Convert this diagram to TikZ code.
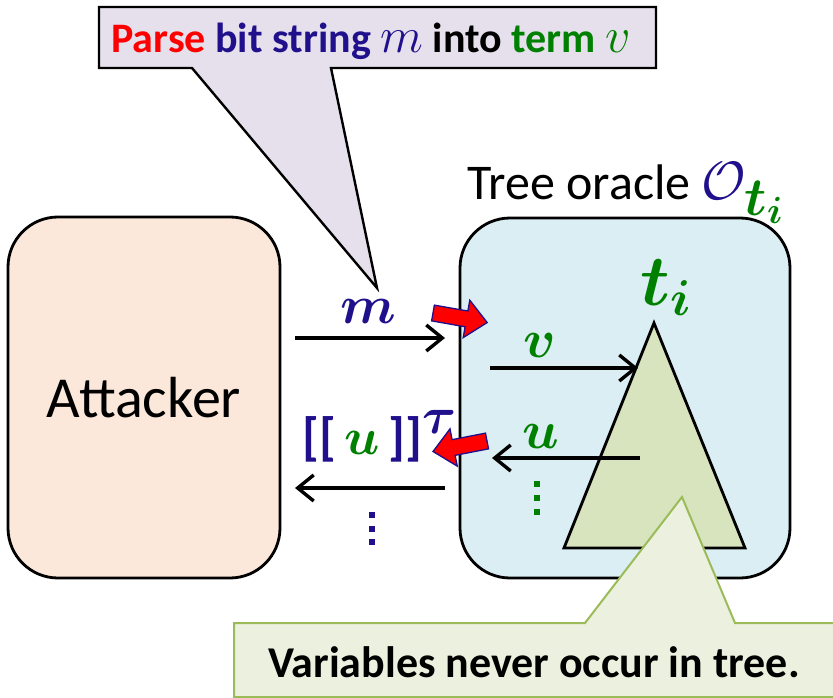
\RequirePackage{fix-cm}
\documentclass[tikz,border=0pt]{standalone}
\usepackage{fontspec}
\setmainfont{Carlito}
\usetikzlibrary{arrows.meta}
\definecolor{dblue}{RGB}{32,16,140}
\definecolor{dgreen}{RGB}{0,128,0}
\definecolor{myred}{RGB}{255,0,0}
\definecolor{lav}{RGB}{230,224,236}
\definecolor{peach}{RGB}{252,232,218}
\definecolor{lblue}{RGB}{219,238,244}
\definecolor{trigreen}{RGB}{215,228,189}
\definecolor{notefill}{RGB}{235,241,222}
\definecolor{noteline}{RGB}{155,187,89}
\newcommand{\bsym}[1]{\mbox{\boldmath$#1$}}
\newcommand{\sizedmath}[2]{\mbox{\fontsize{#1}{#1}\selectfont$#2$}}
\tikzset{
  fs/.style={font=\fontsize{#1}{#1}\selectfont},
  bigbox/.style={draw=black, line width=2.8pt, rounded corners=50pt},
  msg/.style={line width=3.4pt, -{Straight Barb[length=16pt,width=26pt,line width=3.4pt]}},
  redarrow/.style={fill=myred, draw=dblue, line width=1.3pt, line join=miter},
  lbl/.style={inner sep=0pt},
  dotsq/.style={minimum size=6pt, inner sep=0pt, fill=#1},
}
\begin{document}
\begin{tikzpicture}[x=1pt,y=-1pt]
\useasboundingbox (0,0) rectangle (833,698);

% Attacker box
\node[bigbox, fill=peach, minimum width=272pt, minimum height=361pt, fs=58] (att) at (144,397.5) {Attacker};

% Oracle box
\node[bigbox, fill=lblue, minimum width=330pt, minimum height=360pt] (orc) at (625,398) {};
\node[lbl, anchor=base west, fs=50] (title) at (467,200) {Tree oracle \textcolor{dblue}{\sizedmath{54}{\mathcal{O}_{\textcolor{dgreen}{\bsym{t_{\scriptstyle i}}}}}}};

% Tree
\coordinate (apex) at (654,323);
\coordinate (bl) at (564,548);
\coordinate (br) at (745,548);
\draw[fill=trigreen, line width=2.8pt, line join=miter] (apex) -- (br) -- (bl) -- cycle;
\node[lbl, anchor=base west, fs=72, text=dgreen] (tlab) at (640,305) {\bsym{t_i}};

% messages attacker <-> oracle
\node[lbl, fs=54, text=dblue] (mlab) at (368,311) {\bsym{m}};
\coordinate (m1) at (295,338);
\coordinate (m2) at (445,338);
\draw[msg] (m1) -- (m2);

\node[lbl, anchor=base west, fs=52, text=dblue] (enc) at (302,454) {\bfseries[[\,\textcolor{dgreen}{\bsym{u}}\,]]\raisebox{2pt}{$^{\bsym{\tau}}$}};
\coordinate (r1) at (445,488);
\coordinate (r2) at (295,488);
\draw[msg] (r1) -- (r2);
\node[dotsq=dblue] (bd1) at (372,515) {};
\node[dotsq=dblue] (bd2) at (372,528.5) {};
\node[dotsq=dblue] (bd3) at (372,542) {};

% inside oracle
\node[lbl, fs=54, text=dgreen] (vlab) at (540,345) {\bsym{v}};
\coordinate (v1) at (490,368);
\coordinate (v2) at (638,368);
\draw[msg] (v1) -- (v2);

\node[lbl, fs=54, text=dgreen] (ulab) at (541,436) {\bsym{u}};
\coordinate (u1) at (640,458);
\coordinate (u2) at (492,458);
\draw[msg] (u1) -- (u2);
\node[dotsq=dgreen] (gd1) at (537,484) {};
\node[dotsq=dgreen] (gd2) at (537,498) {};
\node[dotsq=dgreen] (gd3) at (537,512) {};

% red block arrows
\begin{scope}[shift={(433,313)}, rotate=-10]
  \draw[redarrow] (0,-8) -- (34,-8) -- (34,-19) -- (55,0) -- (34,19) -- (34,8) -- (0,8) -- cycle;
\end{scope}
\begin{scope}[shift={(487,441)}, rotate=191]
  \draw[redarrow] (0,-8) -- (34,-8) -- (34,-19) -- (55,0) -- (34,19) -- (34,8) -- (0,8) -- cycle;
\end{scope}

% top callout
\coordinate (tc1) at (99,7);
\coordinate (tc2) at (656,7);
\coordinate (tc3) at (656,68);
\coordinate (tc4) at (331,68);
\coordinate (tctip) at (377,288);
\coordinate (tc5) at (192,68);
\coordinate (tc6) at (99,68);
\draw[fill=lav, line width=2.4pt, line join=miter] (tc1) -- (tc2) -- (tc3) -- (tc4) -- (tctip) -- (tc5) -- (tc6) -- cycle;
\node[lbl, anchor=base, fs=42] (toptext) at (371,53) {\bfseries\textcolor{myred}{Parse} \textcolor{dblue}{bit string \sizedmath{50}{m}} into \textcolor{dgreen}{term \sizedmath{50}{v}}};

% bottom callout
\coordinate (bc1) at (234,623);
\coordinate (bc2) at (585,623);
\coordinate (bctip) at (682,497);
\coordinate (bc3) at (735,623);
\coordinate (bc4) at (840,623);
\coordinate (bc5) at (840,697);
\coordinate (bc6) at (234,697);
\draw[fill=notefill, draw=noteline, line width=2pt, line join=miter] (bc1) -- (bc2) -- (bctip) -- (bc3) -- (bc4) -- (bc5) -- (bc6) -- cycle;
\node[lbl, fs=44] (note) at (534,662) {\bfseries Variables never occur in tree.};
\end{tikzpicture}
\end{document}
